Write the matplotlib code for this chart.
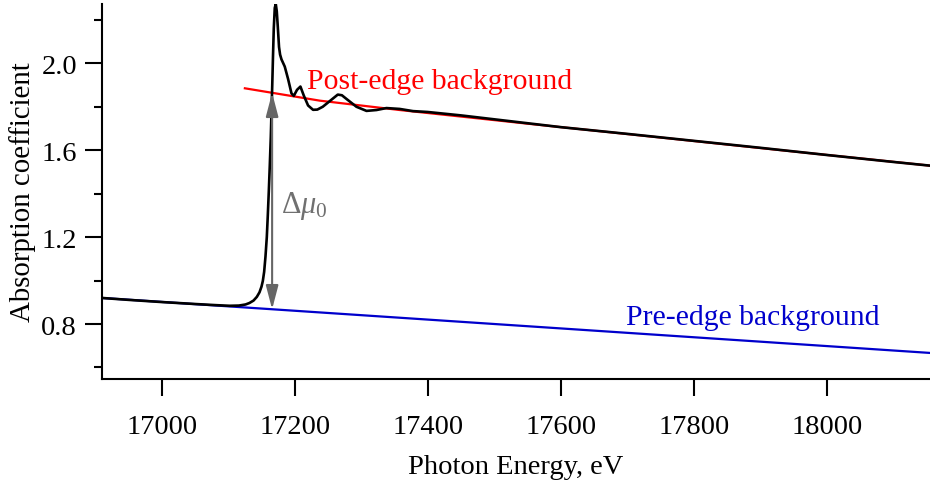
import numpy as np
import matplotlib
matplotlib.use("Agg")
import matplotlib.pyplot as plt

# Absorption spectrum around the K edge (eV, absorption coefficient)
energy = [16909, 16950, 17000, 17050, 17080, 17101, 17115, 17125, 17131, 17137,
          17142, 17146, 17149, 17151, 17153, 17155, 17157, 17158.5, 17160, 17161.5,
          17163, 17164, 17165.2, 17166.3, 17167.5, 17169, 17170.5, 17172,
          17173.5, 17175.4, 17177, 17179.1, 17184, 17189, 17194.1, 17197.6,
          17202.5, 17207.6, 17212.6, 17219.1, 17226.6, 17233, 17241.2, 17251.7,
          17263.8, 17270, 17276.9, 17291.9, 17307, 17322, 17337, 17357, 17377,
          17399, 17450, 17500, 17600, 17700, 17800, 17900, 18000, 18100, 18155]
absorption = [0.920, 0.911, 0.901, 0.892, 0.887, 0.884, 0.885, 0.890, 0.897, 0.908,
              0.925, 0.946, 0.972, 0.998, 1.040, 1.110, 1.200, 1.300, 1.410, 1.530,
              1.660, 1.770, 1.900, 2.030, 2.160, 2.255, 2.273, 2.240,
              2.170, 2.075, 2.040, 2.018, 1.985, 1.928, 1.862, 1.850,
              1.878, 1.893, 1.852, 1.806, 1.786, 1.787, 1.800, 1.826,
              1.856, 1.853, 1.836, 1.800, 1.781, 1.785, 1.794, 1.790, 1.780,
              1.776, 1.760, 1.742, 1.706, 1.675, 1.643, 1.611, 1.578, 1.546, 1.529]

# Pre-edge background line
pre_energy = [16909, 18155]
pre_mu = [0.920, 0.667]

# Post-edge background curve
post_energy = [17124, 17237, 17357, 17550, 17748, 17950, 18155]
post_mu = [1.885, 1.828, 1.785, 1.722, 1.659, 1.594, 1.529]

edge_energy = 17165

x_ticks = [17000, 17200, 17400, 17600, 17800, 18000]
y_ticks = [0.8, 1.2, 1.6, 2.0]
y_minor = [0.6, 1.0, 1.4, 1.8, 2.2]

plt.rcParams["font.family"] = ["Liberation Serif", "DejaVu Serif"]
plt.rcParams["mathtext.fontset"] = "custom"
plt.rcParams["mathtext.rm"] = "Liberation Serif"
plt.rcParams["mathtext.it"] = "Liberation Serif:italic"

fig = plt.figure(figsize=(9.30, 4.81), dpi=100)
ax = fig.add_axes([102 / 930, 1 - 380 / 481, 1 - 102 / 930, 375 / 481])

ax.plot(pre_energy, pre_mu, color="#0000cc", lw=1.6, zorder=2)
ax.plot(post_energy, post_mu, color="#ff0000", lw=1.6, zorder=2)
ax.plot(energy, absorption, color="black", lw=1.9, zorder=3,
        solid_joinstyle="round")

mu_low = np.interp(edge_energy, pre_energy, pre_mu)
mu_high = np.interp(edge_energy, post_energy, post_mu)
ax.annotate("", xy=(edge_energy, mu_high), xytext=(edge_energy, mu_low),
            arrowprops=dict(arrowstyle="<|-|>,head_length=1.45,head_width=0.38",
                            mutation_scale=10, color="#666666", lw=1.5,
                            shrinkA=0, shrinkB=0),
            zorder=4)

ax.text(17179, 1.314, r"$\Delta\mu_0$", color="#707070", fontsize=22,
        ha="left", va="baseline")
ax.text(17217, 1.888, "Post-edge background", color="#ff0000", fontsize=21.3,
        ha="left", va="baseline")
ax.text(17697, 0.800, "Pre-edge background", color="#0000cc", fontsize=21.3,
        ha="left", va="baseline")

ax.set_xlim(16909, 18155)
ax.set_ylim(0.547, 2.273)
ax.set_xticks(x_ticks)
ax.set_xticklabels([str(t) for t in x_ticks])
ax.set_yticks(y_ticks)
ax.set_yticklabels([f"{t:.1f}" for t in y_ticks])
ax.set_yticks(y_minor, minor=True)

for side in ("top", "right"):
    ax.spines[side].set_visible(False)
for side in ("left", "bottom"):
    ax.spines[side].set_linewidth(1.5)

ax.tick_params(axis="both", which="major", direction="out", length=12,
               width=1.5, labelsize=20.5)
ax.tick_params(axis="y", which="minor", direction="out", length=6, width=1.5)
ax.tick_params(axis="x", which="major", pad=13)
ax.tick_params(axis="y", which="major", pad=6)

ax.set_xlabel("Photon Energy, eV", fontsize=20.5, labelpad=11)
ax.set_ylabel("Absorption coefficient", fontsize=20.8, labelpad=3.5)

fig.savefig("out.png", dpi=100)
